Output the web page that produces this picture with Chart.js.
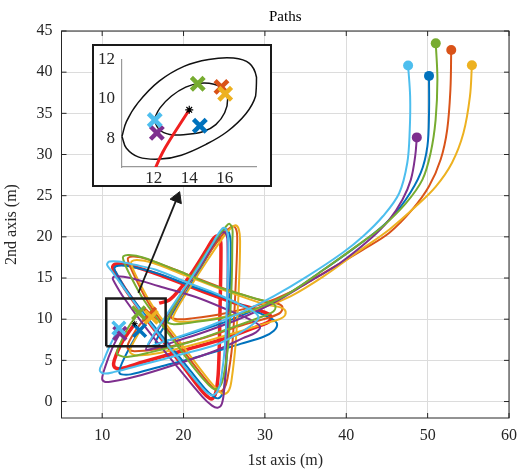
<!DOCTYPE html>
<html>
<head>
<meta charset="utf-8">
<script src="https://cdn.jsdelivr.net/npm/chart.js@4.4.0/dist/chart.umd.min.js"></script>
<style>
  html, body { margin: 0; padding: 0; background: #fff; }
  #wrap { position: relative; width: 525px; height: 472px; }
  #grafico { display: block; }
  #inset { position: absolute; left: 92px; top: 44px; width: 176px; height: 139px; border: 2px solid #1a1a1a; background: #fff; }
  #graficoZoom { display: block; }
</style>
</head>
<body>
<div id="wrap">
  <canvas id="grafico" width="525" height="472"></canvas>
  <div id="inset"><canvas id="graficoZoom" width="176" height="139"></canvas></div>
</div>
<script>
// ticks
const xTicks = [10, 20, 30, 40, 50, 60];
const yTicks = [0, 5, 10, 15, 20, 25, 30, 35, 40, 45];
const zoomXTicks = [12, 14, 16];
const zoomYTicks = [8, 10, 12];

// paths [x, y] (first point = start dot, last point = end cross)
const pathBlue = [[50.17,39.55],[50.17,35.0],[49.97,31.0],[49.16,27.8],[47.3,24.5],[44.9,21.7],[41.3,18.87],[37.2,16.0],[33.2,13.3],[29.5,11.5],[25.5,9.8],[21.0,8.3],[18.0,7.4],[16.6,7.1],[16.9,7.9],[18.2,10.0],[20.5,13.6],[22.8,17.4],[24.3,20.0],[24.8,20.7],[25.2,20.95],[25.6,20.5],[25.8,19.3],[25.7,14],[25.4,7],[25.1,2.5],[24.8,1.0],[24.3,0.4],[23.7,0.6],[22.6,1.6],[20,4.8],[16,9.6],[13,13.5],[11.8,15.5],[11.5,16.2],[12.0,16.5],[13.5,16.4],[17,15.5],[21,14.0],[25,12.6],[29,10.9],[30.9,10.0],[31.5,9.4],[31.1,8.6],[29.9,7.9],[27,7.0],[22,5.5],[17,4.2],[13.5,3.3],[12.4,3.3],[12.1,3.6],[12.4,4.6],[13.4,6.6],[14.6,8.64]];
const pathOrange = [[52.9,42.7],[52.8,37.9],[52.4,33.0],[51.6,29.4],[50.17,26.14],[48.1,23.3],[45.3,20.5],[42.07,18.46],[37.2,15.6],[33.2,13.3],[29.5,11.8],[25,10.7],[21,10.1],[19.2,10.0],[18.4,10.3],[18.7,11.1],[20.2,13.6],[22.8,17.5],[24.9,20.4],[25.6,21.0],[26.1,21.3],[26.5,20.8],[26.6,19.5],[26.4,14],[26.0,7],[25.4,2.8],[25.0,1.6],[24.4,1.2],[23.7,1.6],[22.2,3.3],[19,7.5],[15.8,11.8],[13.8,15.6],[13.2,17.0],[13.2,17.45],[13.9,17.6],[15.5,17.3],[19.5,15.8],[24.5,13.9],[29.5,12.3],[31.5,11.9],[32.15,11.5],[31.9,10.8],[30.5,10.2],[27,9.2],[22,7.6],[17,6.4],[14,6.1],[13.3,6.3],[13.1,6.7],[13.6,7.8],[14.6,9.3],[15.82,10.61]];
const pathYellow = [[55.44,40.85],[55.2,37.05],[54.4,32.6],[53.0,29.0],[51.0,26.1],[48.55,23.7],[45.3,20.9],[41.3,18.1],[37.2,15.2],[33.2,12.8],[30.0,11.5],[26,10.5],[22,9.8],[19.5,9.7],[18.7,10.0],[19.0,10.9],[20.5,13.4],[23.1,17.4],[25.2,20.4],[25.9,21.1],[26.4,21.4],[26.8,20.9],[26.95,19.5],[26.8,14],[26.4,7],[25.9,2.6],[25.6,1.4],[25.0,0.9],[24.3,1.3],[22.8,3.0],[19.5,7.3],[16.2,11.6],[14.2,15.2],[13.6,16.6],[13.6,17.0],[14.3,17.2],[16,16.9],[20,15.4],[25,13.5],[30,11.8],[32,11.4],[32.55,10.9],[32.2,10.2],[30.8,9.7],[27.5,8.7],[22,7.1],[17,5.9],[14.3,5.6],[13.6,5.8],[13.4,6.2],[13.9,7.3],[14.9,8.9],[16.03,10.26]];
const pathPurple = [[48.67,32.08],[48.47,29.8],[47.94,26.95],[46.9,24.5],[45.3,22.1],[42.9,19.7],[39.2,16.8],[35.2,14.4],[31.1,12.0],[27.5,10.3],[23,8.6],[19,7.3],[16.5,6.5],[15.4,6.3],[15.8,7.1],[17.3,9.4],[19.7,13.0],[22.3,16.9],[24.0,19.6],[24.5,20.3],[24.9,20.6],[25.3,20.2],[25.4,19.0],[25.4,14],[25.3,7],[25.0,1.5],[24.7,-0.3],[24.2,-0.75],[23.5,-0.5],[22.3,0.6],[19.5,3.9],[15.5,8.8],[12.6,12.7],[11.5,14.5],[11.3,15.0],[11.8,15.2],[13.5,15.0],[17,14.0],[21.5,12.7],[25.5,11.1],[28.5,9.8],[29.4,9.1],[28.9,8.4],[27.3,7.7],[24,6.2],[19,4.5],[14,3.0],[11,2.4],[10.3,2.4],[10.0,2.8],[10.4,4.3],[11.2,6.4],[12.17,8.28]];
const pathGreen = [[51.0,43.5],[51.2,39.1],[50.98,34.2],[50.37,30.2],[49.36,26.95],[47.34,24.1],[44.5,21.3],[41.3,18.9],[37.2,16.0],[33.2,13.3],[29.5,11.5],[25,10.2],[21,9.6],[18.8,9.4],[18.0,9.7],[18.3,10.5],[19.8,13.2],[22.3,17.3],[24.4,20.3],[25.1,21.1],[25.6,21.6],[26.0,21.0],[26.0,19.5],[25.9,14],[25.5,7],[24.9,3],[24.5,1.9],[23.8,1.5],[23.1,2.0],[21.5,3.8],[18.5,7.8],[15.2,12.2],[13.2,15.8],[12.6,17.2],[12.6,17.65],[13.3,17.8],[15,17.5],[19,16.0],[24,14.0],[28.5,12.6],[30.7,12.0],[31.3,11.6],[31.0,10.9],[29.6,10.3],[26,9.0],[21,7.3],[16,6.0],[13,5.4],[12.1,5.6],[11.8,5.9],[12.2,7.0],[13.2,9.0],[14.48,10.77]];
const pathCyan = [[47.6,40.8],[47.85,37.0],[47.8,33.0],[47.5,29.0],[46.5,25.3],[44.5,22.5],[42.1,20.1],[39.6,18.1],[35.2,15.2],[31.1,12.8],[27.5,11.0],[23.5,9.3],[19.5,7.9],[16.8,7.0],[15.6,6.7],[16.0,7.6],[17.3,9.6],[19.5,12.9],[22.0,16.6],[23.8,19.6],[24.5,20.7],[24.95,21.1],[25.35,20.6],[25.5,19.4],[25.4,14],[25.1,7],[24.6,2.6],[24.2,1.3],[23.6,0.75],[23.0,1.0],[22.0,2.0],[19.5,5.0],[15.5,10.0],[12.3,14.3],[11.2,15.8],[10.6,16.6],[10.9,17.0],[12.0,17.0],[14,16.6],[16.6,16.0],[20.6,14.4],[24.3,13.0],[27.3,11.6],[28.8,10.8],[29.2,10.1],[28.4,9.3],[26.5,8.1],[24,6.9],[20,5.8],[15,4.5],[11.5,3.6],[10.2,3.4],[9.7,3.8],[10.1,4.8],[11.0,6.9],[12.05,8.93]];
const pathRed = [[17.0,11.95],[18.2,12.3],[19.5,13.6],[21.2,15.9],[22.8,18.4],[23.6,19.7],[24.1,20.1],[24.5,19.7],[24.6,18.5],[24.5,12],[24.3,4],[24.0,1.2],[23.6,0.4],[23.2,0.4],[22.4,1.1],[20,4.2],[16,9.3],[12.8,13.7],[11.5,15.8],[11.3,16.4],[11.8,16.7],[13.5,16.5],[17.5,15.2],[22,13.5],[26.5,11.9],[29.8,10.9],[30.7,10.4],[30.5,9.7],[29.3,9.2],[25.5,7.8],[20,6.2],[15,4.8],[12.3,4.0],[11.6,4.1],[11.4,4.6],[11.7,5.6],[12.5,7.3],[14.0,9.45]];

// zoom box, arrow and the two ellipses of the inset
const zoomBox = [[10.5,6.7],[17.8,6.7],[17.8,12.5],[10.5,12.5],[10.5,6.7]];
const arrowPath = [[14.45,13.2],[19.2,24.7]];
const innerEllipse = [[12.0,8.95],[12.3,8.45],[12.9,8.2],[13.8,8.2],[14.8,8.35],[15.5,8.7],[16.0,9.3],[16.17,10.0],[15.95,10.5],[15.4,10.75],[14.6,10.8],[13.8,10.6],[13.0,10.15],[12.35,9.55],[12.0,8.95]];
const outerEllipse = [[10.2,8.1],[10.45,8.85],[11.1,9.8],[12.3,10.9],[13.7,11.65],[15.1,12.0],[16.5,12.07],[17.4,11.8],[17.8,11.1],[17.75,10.15],[17.2,9.25],[16.15,8.35],[14.95,7.7],[13.55,7.15],[12.35,6.95],[11.15,7.05],[10.45,7.5],[10.2,8.1]];

const caminhos = [pathBlue, pathOrange, pathYellow, pathPurple, pathGreen, pathCyan];
const cores = ["#0072BD", "#D95319", "#EDB120", "#7E2F8E", "#77AC30", "#4DBEEE"];
const corVermelha = "#f02020";
const fonte = "'Liberation Serif', 'Times New Roman', serif";

function pontos(lista) {
  return lista.map((p) => ({ x: p[0], y: p[1] }));
}

function linha(lista, cor, largura, tensao) {
  return {
    data: pontos(lista),
    showLine: true,
    borderColor: cor,
    borderWidth: largura,
    pointRadius: 0,
    tension: tensao,
    fill: false,
  };
}

function marca(lista, cor, estilo, raio, largura) {
  return {
    data: pontos(lista),
    showLine: false,
    pointStyle: estilo,
    pointRadius: raio,
    pointBorderWidth: largura,
    pointBorderColor: cor,
    pointBackgroundColor: cor,
  };
}

// box + inward ticks like matlab
const moldura = {
  id: "moldura",
  afterDraw(chart) {
    const { ctx, chartArea: a, scales } = chart;
    ctx.save();
    ctx.strokeStyle = "#262626";
    ctx.lineWidth = 1;
    ctx.strokeRect(a.left, a.top, a.right - a.left, a.bottom - a.top);
    ctx.beginPath();
    xTicks.forEach((v) => {
      const px = scales.x.getPixelForValue(v);
      ctx.moveTo(px, a.bottom);
      ctx.lineTo(px, a.bottom - 5);
      ctx.moveTo(px, a.top);
      ctx.lineTo(px, a.top + 5);
    });
    yTicks.forEach((v) => {
      const py = scales.y.getPixelForValue(v);
      ctx.moveTo(a.left, py);
      ctx.lineTo(a.left + 5, py);
      ctx.moveTo(a.right, py);
      ctx.lineTo(a.right - 5, py);
    });
    ctx.stroke();
    ctx.restore();
  },
};

function geraGrafico() {
  const ctx = document.getElementById("grafico");

  // bottom to top
  var conjuntos = [];
  conjuntos.push(linha(pathRed, corVermelha, 3.5, 0.35));
  caminhos.forEach((c, i) => conjuntos.push(linha(c, cores[i], 2, 0.35)));
  conjuntos.push(linha(zoomBox, "#1a1a1a", 2.5, 0));
  var seta = linha(arrowPath, "#1a1a1a", 1.8, 0);
  seta.pointRadius = [0, 7];
  seta.pointStyle = "triangle";
  seta.pointRotation = 22;
  seta.pointBackgroundColor = "#1a1a1a";
  seta.pointBorderColor = "#1a1a1a";
  seta.pointBorderWidth = 1;
  conjuntos.push(seta);
  caminhos.forEach((c, i) => conjuntos.push(marca([c[0]], cores[i], "circle", 5, 0)));
  caminhos.forEach((c, i) => conjuntos.push(marca([c[c.length - 1]], cores[i], "crossRot", 9, 3.5)));
  conjuntos.push(marca([pathRed[pathRed.length - 1]], "#000", "star", 3, 1));
  conjuntos.reverse();

  const config = {
    type: "scatter",
    data: { datasets: conjuntos },
    options: {
      responsive: false,
      animation: false,
      devicePixelRatio: 1,
      events: [],
      layout: { padding: { right: 9 } },
      plugins: {
        legend: { display: false },
        tooltip: { enabled: false },
        title: {
          display: true,
          text: "Paths",
          fullSize: false,
          color: "#000",
          font: { family: fonte, size: 15, weight: "normal", lineHeight: 1.2 },
          padding: { top: 8, bottom: 5 },
        },
      },
      scales: {
        x: {
          type: "linear",
          min: 5,
          max: 60,
          afterBuildTicks: (s) => { s.ticks = xTicks.map((v) => ({ value: v })); },
          afterFit: (s) => { s.height = 54; },
          grid: { color: "#dcdcdc", drawTicks: false },
          border: { display: false },
          ticks: { padding: 8, color: "#262626", font: { family: fonte, size: 16 } },
          title: {
            display: true,
            text: "1st axis (m)",
            color: "#262626",
            font: { family: fonte, size: 16, lineHeight: 1.2 },
            padding: { top: 0, bottom: 2 },
          },
        },
        y: {
          type: "linear",
          min: -2,
          max: 45,
          afterBuildTicks: (s) => { s.ticks = yTicks.map((v) => ({ value: v })); },
          afterFit: (s) => { s.width = 61.5; },
          grid: { color: "#dcdcdc", drawTicks: false },
          border: { display: false },
          ticks: { padding: 9, color: "#262626", font: { family: fonte, size: 16 } },
          title: {
            display: true,
            text: "2nd axis (m)",
            color: "#262626",
            font: { family: fonte, size: 16, lineHeight: 1.2 },
            padding: { top: 2, bottom: 0 },
          },
        },
      },
    },
    plugins: [moldura],
  };

  new Chart(ctx, config);
}

function geraZoom() {
  const ctx = document.getElementById("graficoZoom");

  var conjuntos = [];
  var e1 = linha(outerEllipse, "#111", 1.5, 0.4);
  e1.clip = 4;
  conjuntos.push(e1);
  conjuntos.push(linha(innerEllipse, "#111", 1.5, 0.4));
  conjuntos.push(linha(pathRed.slice(-4), corVermelha, 3, 0.3));
  caminhos.forEach((c, i) => conjuntos.push(marca([c[c.length - 1]], cores[i], "crossRot", 9, 4.5)));
  conjuntos.push(marca([pathRed[pathRed.length - 1]], "#000", "star", 4, 1.2));
  conjuntos.reverse();

  const config = {
    type: "scatter",
    data: { datasets: conjuntos },
    options: {
      responsive: false,
      animation: false,
      devicePixelRatio: 1,
      events: [],
      layout: { padding: { top: 8, right: 2, left: 0, bottom: 0 } },
      plugins: { legend: { display: false }, tooltip: { enabled: false } },
      scales: {
        x: {
          type: "linear",
          min: 10.2,
          max: 17.8,
          afterBuildTicks: (s) => { s.ticks = zoomXTicks.map((v) => ({ value: v })); },
          afterFit: (s) => { s.height = 18; s.paddingLeft = 0; s.paddingRight = 0; },
          grid: { display: false, drawTicks: false },
          border: { color: "#999", width: 1.2 },
          ticks: { padding: 1, color: "#262626", font: { family: fonte, size: 17 } },
        },
        y: {
          type: "linear",
          min: 6.55,
          max: 12,
          afterBuildTicks: (s) => { s.ticks = zoomYTicks.map((v) => ({ value: v })); },
          afterFit: (s) => { s.width = 28; s.paddingTop = 0; s.paddingBottom = 0; },
          grid: { display: false, drawTicks: false },
          border: { color: "#999", width: 1.2 },
          ticks: { padding: 7, color: "#262626", font: { family: fonte, size: 17 } },
        },
      },
    },
  };

  new Chart(ctx, config);
}

geraGrafico();
geraZoom();
</script>
</body>
</html>
